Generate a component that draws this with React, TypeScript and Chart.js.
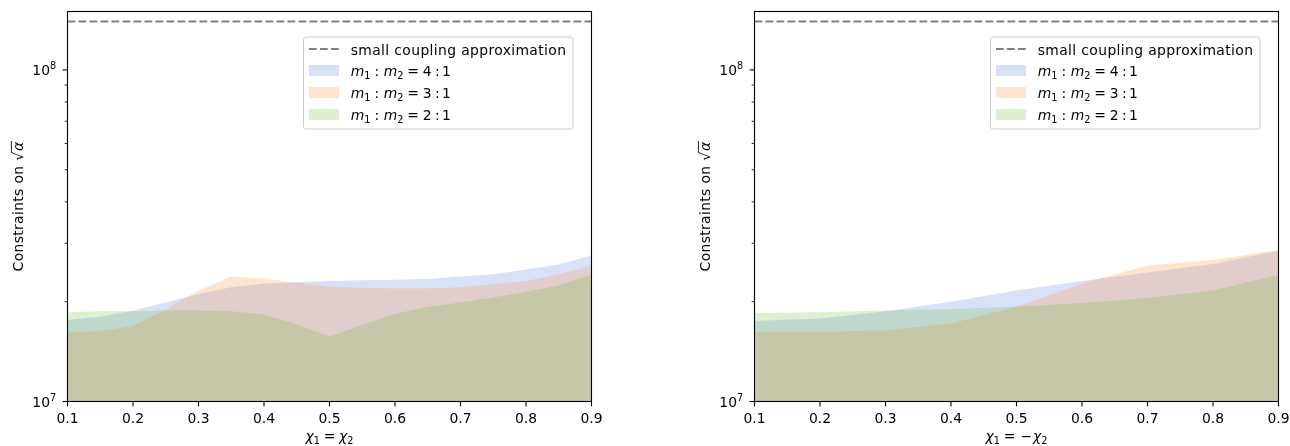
import React, { useEffect, useRef } from "react";
import { Chart, registerables } from "chart.js";
Chart.register(...registerables);

// ---------- data ----------
const xLeft = [0.1, 0.15, 0.2, 0.25, 0.3, 0.35, 0.4, 0.45, 0.5, 0.55, 0.6, 0.65, 0.7, 0.75, 0.8, 0.85, 0.9];
const leftRatio41 = [1.76, 1.8, 1.88, 1.99, 2.11, 2.21, 2.27, 2.29, 2.31, 2.32, 2.33, 2.34, 2.38, 2.42, 2.5, 2.59, 2.76];
const leftRatio31 = [1.62, 1.63, 1.69, 1.89, 2.16, 2.38, 2.35, 2.28, 2.22, 2.2, 2.19, 2.19, 2.21, 2.26, 2.31, 2.42, 2.56];
const leftRatio21 = [1.86, 1.87, 1.87, 1.88, 1.88, 1.87, 1.83, 1.71, 1.57, 1.7, 1.84, 1.93, 1.99, 2.06, 2.14, 2.24, 2.41];

const xRight = [0.1, 0.2, 0.3, 0.4, 0.5, 0.6, 0.7, 0.8, 0.9];
const rightRatio41 = [1.75, 1.78, 1.87, 2.0, 2.16, 2.31, 2.45, 2.6, 2.85];
const rightRatio31 = [1.62, 1.62, 1.64, 1.72, 1.93, 2.27, 2.57, 2.67, 2.87];
const rightRatio21 = [1.85, 1.86, 1.88, 1.9, 1.93, 1.98, 2.05, 2.16, 2.41];

const valueUnit = 1e7;
const smallCouplingValue = 1.4e8;
const yMin = 1e7;
const yMax = 1.5e8;
const xMin = 0.1;
const xMax = 0.9;

const xTickValues = [0.1, 0.2, 0.3, 0.4, 0.5, 0.6, 0.7, 0.8, 0.9];
const xTickLabels = ["0.1", "0.2", "0.3", "0.4", "0.5", "0.6", "0.7", "0.8", "0.9"];
const yMajorValues = [1e7, 1e8];
const yMajorExponents = ["7", "8"];
const yMinorValues = [2e7, 3e7, 4e7, 5e7, 6e7, 7e7, 8e7, 9e7];

const legendFirstLabel = "small coupling approximation";
const ratioLabels = ["4", "3", "2"];
const yTitleText = "Constraints on ";

// ---------- styles ----------
const FONT = '"DejaVu Sans"';
const FS = 13.9;
const fillColors = ["rgba(65,105,225,0.2)", "rgba(255,127,14,0.2)", "rgba(90,175,30,0.2)"];
const dashColor = "rgb(128,128,128)";

type Seg = { t?: string; it?: boolean; sub?: boolean; sup?: boolean; gap?: number };

function segFont(s: Seg, size: number) {
  const sz = s.sub || s.sup ? size * 0.7 : size;
  return `${s.it ? "italic " : ""}${sz}px ${FONT}`;
}

function setSpacing(ctx: CanvasRenderingContext2D, px: number) {
  (ctx as any).letterSpacing = `${px}px`;
}

function segsWidth(ctx: CanvasRenderingContext2D, segs: Seg[], size: number) {
  let w = 0;
  for (const s of segs) {
    if (s.gap !== undefined) { w += s.gap; continue; }
    ctx.font = segFont(s, size);
    w += ctx.measureText(s.t || "").width;
  }
  return w;
}

function drawSegs(ctx: CanvasRenderingContext2D, segs: Seg[], x: number, y: number, size: number, align: "left" | "center" | "right") {
  const w = segsWidth(ctx, segs, size);
  let cx = align === "left" ? x : align === "center" ? x - w / 2 : x - w;
  ctx.textAlign = "left";
  ctx.textBaseline = "alphabetic";
  for (const s of segs) {
    if (s.gap !== undefined) { cx += s.gap; continue; }
    ctx.font = segFont(s, size);
    const dy = s.sub ? size * 0.22 : s.sup ? -size * 0.45 : 0;
    ctx.fillText(s.t || "", cx, y + dy);
    cx += ctx.measureText(s.t || "").width;
  }
  return w;
}

function ratioSegs(r: string): Seg[] {
  return [
    { t: "m", it: true }, { t: "1", sub: true }, { gap: 4.2 }, { t: ":" }, { gap: 4.5 },
    { t: "m", it: true }, { t: "2", sub: true }, { gap: 3.8 }, { t: "=" }, { gap: 3.8 },
    { t: r }, { gap: 3.5 }, { t: ":" }, { gap: 2.2 }, { t: "1" },
  ];
}

function makeDecorPlugin(xTitle: Seg[]) {
  return {
    id: "decor",
    afterDraw(chart: any) {
      const ctx: CanvasRenderingContext2D = chart.ctx;
      const ca = chart.chartArea;
      const xs = chart.scales.x;
      const ys = chart.scales.y;
      ctx.save();
      setSpacing(ctx, 0);
      ctx.fillStyle = "#000";
      ctx.strokeStyle = "#000";
      // spines
      ctx.lineWidth = 1.1;
      ctx.strokeRect(ca.left, ca.top, ca.right - ca.left, ca.bottom - ca.top);
      // x ticks
      xTickValues.forEach((v, i) => {
        const px = xs.getPixelForValue(v);
        ctx.lineWidth = 1.1;
        ctx.beginPath();
        ctx.moveTo(px, ca.bottom);
        ctx.lineTo(px, ca.bottom + 4.9);
        ctx.stroke();
        ctx.font = `${FS}px ${FONT}`;
        ctx.textAlign = "center";
        ctx.textBaseline = "alphabetic";
        ctx.fillText(xTickLabels[i], px, 423);
      });
      // y major ticks
      yMajorValues.forEach((v, i) => {
        const py = ys.getPixelForValue(v);
        ctx.lineWidth = 1.1;
        ctx.beginPath();
        ctx.moveTo(ca.left, py);
        ctx.lineTo(ca.left - 4.9, py);
        ctx.stroke();
        drawSegs(ctx, [{ t: "10" }, { t: yMajorExponents[i], sup: true }], ca.left - 11.3, py + 5.5, FS, "right");
      });
      yMinorValues.forEach((v) => {
        const py = ys.getPixelForValue(v);
        ctx.lineWidth = 0.85;
        ctx.beginPath();
        ctx.moveTo(ca.left, py);
        ctx.lineTo(ca.left - 2.8, py);
        ctx.stroke();
      });
      // x title
      drawSegs(ctx, xTitle, (ca.left + ca.right) / 2, 441, FS, "center");
      // y title
      ctx.save();
      ctx.translate(22.5, (ca.top + ca.bottom) / 2);
      ctx.rotate(-Math.PI / 2);
      setSpacing(ctx, 0.35);
      const segs: Seg[] = [{ t: yTitleText }, { t: "\u221A" }, { gap: 0.5 }, { t: "\u03B1", it: true }];
      const w = segsWidth(ctx, segs, FS);
      const start = -w / 2;
      drawSegs(ctx, segs, start, 0, FS, "left");
      ctx.font = `${FS}px ${FONT}`;
      const w1 = ctx.measureText(yTitleText).width;
      const wr = ctx.measureText("\u221A").width;
      ctx.font = `italic ${FS}px ${FONT}`;
      const wa = ctx.measureText("\u03B1").width;
      ctx.lineWidth = 0.9;
      ctx.beginPath();
      ctx.moveTo(start + w1 + wr - 1.2, -FS * 0.8);
      ctx.lineTo(start + w1 + wr + 0.5 + wa + 0.5, -FS * 0.8);
      ctx.stroke();
      setSpacing(ctx, 0);
      ctx.restore();
      // legend
      const lx = 303.5, ly = 37, lw = 269.5, lh = 92, r = 2.8;
      ctx.beginPath();
      ctx.moveTo(lx + r, ly);
      ctx.lineTo(lx + lw - r, ly);
      ctx.arcTo(lx + lw, ly, lx + lw, ly + r, r);
      ctx.lineTo(lx + lw, ly + lh - r);
      ctx.arcTo(lx + lw, ly + lh, lx + lw - r, ly + lh, r);
      ctx.lineTo(lx + r, ly + lh);
      ctx.arcTo(lx, ly + lh, lx, ly + lh - r, r);
      ctx.lineTo(lx, ly + r);
      ctx.arcTo(lx, ly, lx + r, ly, r);
      ctx.closePath();
      ctx.fillStyle = "rgba(255,255,255,0.8)";
      ctx.fill();
      ctx.strokeStyle = "#cccccc";
      ctx.lineWidth = 1;
      ctx.stroke();
      // dashed handle
      ctx.strokeStyle = dashColor;
      ctx.lineWidth = 2.1;
      ctx.setLineDash([7.7, 3.3]);
      ctx.beginPath();
      ctx.moveTo(309, 49);
      ctx.lineTo(339, 49);
      ctx.stroke();
      ctx.setLineDash([]);
      ctx.fillStyle = "#000";
      ctx.font = `${FS}px ${FONT}`;
      ctx.textAlign = "left";
      setSpacing(ctx, 0.37);
      ctx.fillText(legendFirstLabel, 350.7, 54.5);
      setSpacing(ctx, 0);
      ratioLabels.forEach((rl, i) => {
        const top = 65 + i * 22;
        ctx.fillStyle = fillColors[i];
        ctx.fillRect(309, top, 30, 11);
        ctx.fillStyle = "#000";
        drawSegs(ctx, ratioSegs(rl), 350.7, top + 10.7, FS, "left");
      });
      ctx.restore();
    },
  };
}

function ChartPanel(props: { xs: number[]; s41: number[]; s31: number[]; s21: number[]; xTitle: Seg[]; left: number; width: number }) {
  const ref = useRef<HTMLCanvasElement | null>(null);
  useEffect(() => {
    const { xs, s41, s31, s21, xTitle, width } = props;
    const toPts = (arr: number[]) => arr.map((v, i) => ({ x: xs[i], y: v * valueUnit }));
    const fillDs = (arr: number[], i: number, order: number) => ({
      data: toPts(arr),
      backgroundColor: fillColors[i],
      borderWidth: 0,
      borderColor: "rgba(0,0,0,0)",
      pointRadius: 0,
      fill: "start",
      tension: 0,
      order,
    });
    const chart = new Chart(ref.current as HTMLCanvasElement, {
      type: "line",
      data: {
        datasets: [
          {
            data: [{ x: xMin, y: smallCouplingValue }, { x: xMax, y: smallCouplingValue }],
            borderColor: dashColor,
            borderWidth: 2.1,
            borderDash: [7.7, 3.3],
            pointRadius: 0,
            fill: false,
            order: 0,
          } as any,
          fillDs(s41, 0, 3) as any,
          fillDs(s31, 1, 2) as any,
          fillDs(s21, 2, 1) as any,
        ],
      },
      options: {
        animation: false,
        responsive: false,
        events: [],
        layout: { padding: { left: 67.5, top: 11.5, right: width - 591.5, bottom: 44.5 } },
        plugins: { legend: { display: false }, tooltip: { enabled: false }, title: { display: false } },
        scales: {
          x: { type: "linear", min: xMin, max: xMax, display: false },
          y: { type: "logarithmic", min: yMin, max: yMax, display: false },
        },
      },
      plugins: [makeDecorPlugin(xTitle) as any],
    });
    return () => chart.destroy();
  }, []);
  return (
    <canvas
      ref={ref}
      width={props.width}
      height={446}
      style={{ position: "absolute", left: props.left, top: 0, width: props.width, height: 446 }}
    />
  );
}

const xTitleLeft: Seg[] = [
  { t: "\u03C7", it: true }, { t: "1", sub: true }, { gap: 3.8 }, { t: "=" }, { gap: 3.8 },
  { t: "\u03C7", it: true }, { t: "2", sub: true },
];
const xTitleRight: Seg[] = [
  { t: "\u03C7", it: true }, { t: "1", sub: true }, { gap: 3.8 }, { t: "=" }, { gap: 5 },
  { t: "\u2212" }, { gap: 1 }, { t: "\u03C7", it: true }, { t: "2", sub: true },
];

export default function App() {
  return (
    <div style={{ position: "fixed", left: 0, top: 0, width: 1290, height: 446, background: "#fff", overflow: "hidden" }}>
      <ChartPanel xs={xLeft} s41={leftRatio41} s31={leftRatio31} s21={leftRatio21} xTitle={xTitleLeft} left={0} width={640} />
      <ChartPanel xs={xRight} s41={rightRatio41} s31={rightRatio31} s21={rightRatio21} xTitle={xTitleRight} left={687} width={603} />
    </div>
  );
}
